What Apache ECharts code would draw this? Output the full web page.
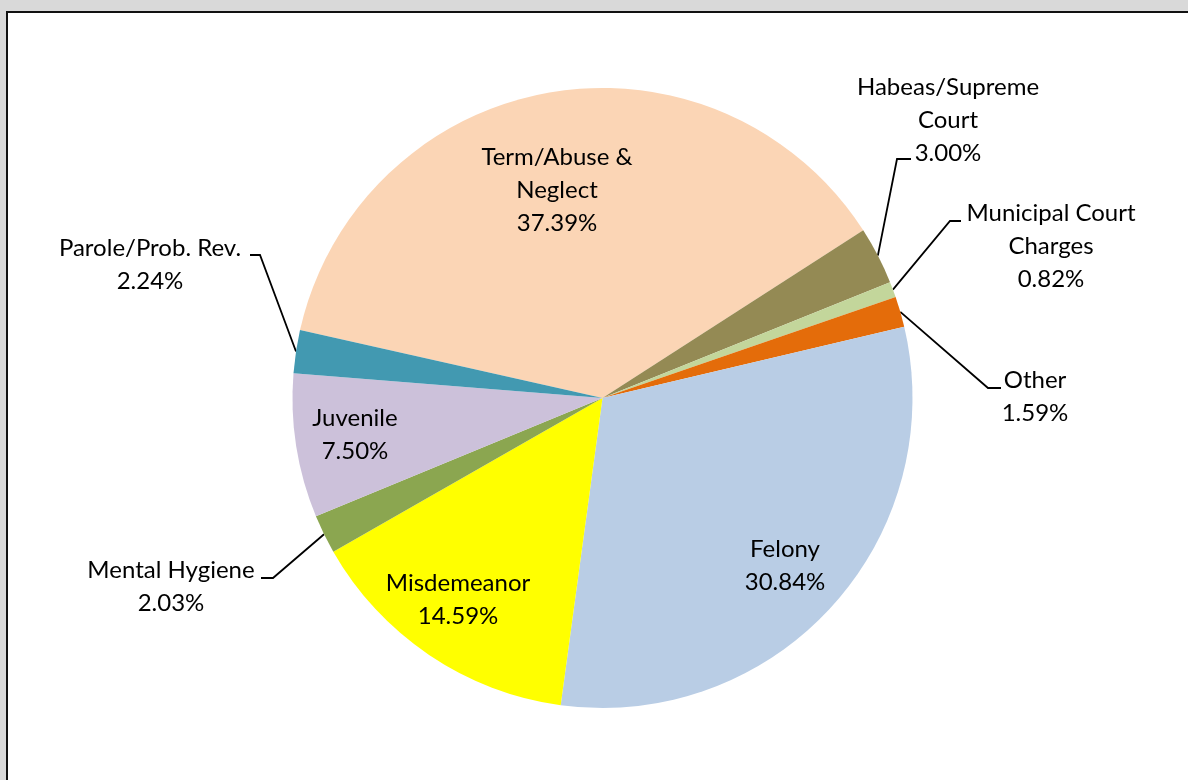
<!DOCTYPE html>
<html>
<head>
<meta charset="utf-8">
<script src="https://cdn.jsdelivr.net/npm/echarts@6/dist/echarts.min.js"></script>
<style>
  html, body { margin: 0; padding: 0; background: #d9d9d9; overflow: hidden; }
  .frame {
    position: absolute; left: 6px; top: 11px;
    width: 1300px; height: 900px;
    background: #fff;
    border-left: 2px solid #111;
    border-top: 2px solid #111;
  }
  #chart { position: absolute; left: 0; top: 0; width: 1188px; height: 780px; }
</style>
</head>
<body>
<div class="frame"></div>
<div id="chart"></div>
<script>
  // case types, clockwise starting with Term/Abuse
  const categories = [
    'Term/Abuse &\nNeglect',
    'Habeas/Supreme\nCourt',
    'Municipal Court\nCharges',
    'Other',
    'Felony',
    'Misdemeanor',
    'Mental Hygiene',
    'Juvenile',
    'Parole/Prob. Rev.'
  ]
  const shares = [37.39, 3.00, 0.82, 1.59, 30.84, 14.59, 2.03, 7.50, 2.24]
  const colors = ['#fbd5b5', '#948a54', '#c3d69b', '#e46c0a', '#b9cde5', '#ffff00', '#8ba650', '#ccc1da', '#4299b1']

  // label placement: [centerX, centerY] and, for outside labels, the elbow / end of leader line
  const labelPos = [
    { c: [557, 190] },
    { c: [948, 120], elbow: [897, 159], end: [911, 159] },
    { c: [1051, 246], elbow: [950, 221], end: [961, 221] },
    { c: [1035, 397], elbow: [988, 388], end: [1001, 388] },
    { c: [785, 566] },
    { c: [458, 600] },
    { c: [171, 587], elbow: [273, 578], end: [261, 578] },
    { c: [355, 435] },
    { c: [150, 265], elbow: [260, 255], end: [250, 255] }
  ]

  const chart = echarts.init(document.getElementById('chart'))

  const option = {
    animation: false,
    textStyle: { fontFamily: 'Lato, sans-serif' },
    series: [{
      type: 'pie',
      center: [602.5, 398],
      radius: [0, 310],
      startAngle: 167.35,
      clockwise: true,
      avoidLabelOverlap: false,
      itemStyle: { borderWidth: 0 },
      label: {
        color: '#000',
        fontSize: 24,
        lineHeight: 33,
        fontFamily: 'Lato, sans-serif',
        formatter: (p) => p.name + '\n' + p.value.toFixed(2) + '%'
      },
      labelLine: { show: true, lineStyle: { color: '#000', width: 1.8 }, length: 20, length2: 10 },
      labelLayout: (params) => {
        const lp = labelPos[params.dataIndex]
        const out = { x: lp.c[0], y: lp.c[1], align: 'center', verticalAlign: 'middle' }
        if (lp.elbow && params.labelLinePoints) {
          out.labelLinePoints = [params.labelLinePoints[0], lp.elbow, lp.end]
        }
        return out
      },
      data: categories.map((name, i) => {
        const outer = !!labelPos[i].elbow
        return {
          name: name,
          value: shares[i],
          itemStyle: { color: colors[i] },
          label: { position: outer ? 'outside' : 'inside' },
          labelLine: { show: outer }
        }
      })
    }]
  }

  chart.setOption(option)
</script>
</body>
</html>
